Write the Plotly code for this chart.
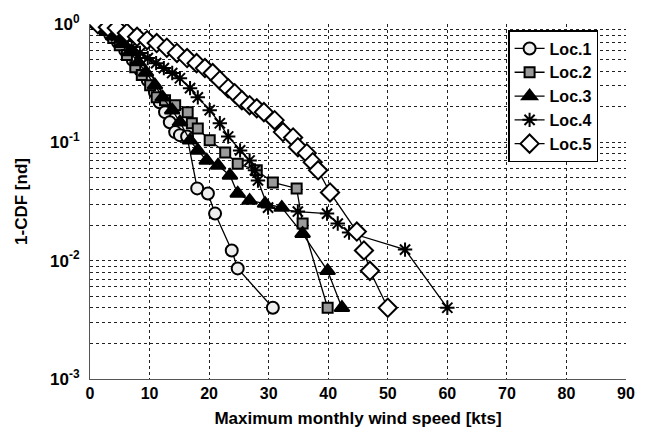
import plotly.graph_objects as go

# Exceedance probability (1-CDF) of maximum monthly wind speed at five locations
loc1_speed = [1.2, 2.2, 3.4, 4.7, 5.9, 7.2, 8.4, 9.7, 10.9, 11.7, 12.6, 13.4, 14.3, 15.1, 16.3,
              18.0, 19.8, 21.0, 23.8, 24.8, 30.7]
loc1_prob = [1.0, 0.925, 0.81, 0.70, 0.60, 0.495, 0.41, 0.335, 0.265, 0.218, 0.18, 0.148, 0.122,
             0.115, 0.112, 0.0408, 0.037, 0.025, 0.0122, 0.0086, 0.004]

loc2_speed = [1.2, 2.5, 3.9, 5.0, 6.2, 7.6, 8.7, 10.1, 11.2, 12.6, 14.3, 16.4, 17.1, 18.1, 20.1,
              22.7, 24.8, 28.0, 30.7, 34.7, 35.7, 39.9]
loc2_prob = [1.0, 0.89, 0.76, 0.66, 0.546, 0.432, 0.37, 0.304, 0.24, 0.227, 0.206, 0.18, 0.145,
             0.131, 0.104, 0.082, 0.066, 0.058, 0.0458, 0.0408, 0.0206, 0.004]

loc3_speed = [1.2, 2.5, 3.9, 5.4, 6.7, 8.1, 9.4, 10.9, 12.2, 13.8, 15.1, 16.8, 18.1, 19.6, 21.5,
              23.5, 24.8, 26.8, 29.4, 32.2, 35.7, 39.9, 42.3]
loc3_prob = [1.0, 0.89, 0.79, 0.68, 0.58, 0.477, 0.39, 0.304, 0.24, 0.187, 0.148, 0.104, 0.0855,
             0.0703, 0.0638, 0.0525, 0.037, 0.0322, 0.0304, 0.0281, 0.0169, 0.0082, 0.004]

loc4_speed = [1.7, 3.0, 4.4, 5.7, 7.0, 8.4, 9.7, 11.1, 12.4, 13.8, 15.1, 16.8, 18.1, 20.1, 21.8,
              23.2, 25.2, 26.8, 27.7, 28.2, 29.9, 34.9, 39.8, 41.6, 43.5, 52.9, 60.0]
loc4_prob = [0.98, 0.89, 0.79, 0.72, 0.64, 0.57, 0.515, 0.467, 0.424, 0.385, 0.348, 0.287, 0.24,
             0.187, 0.145, 0.112, 0.0855, 0.0703, 0.058, 0.0476, 0.0281, 0.026, 0.025, 0.0206,
             0.0173, 0.0124, 0.004]

loc5_speed = [1.3, 3.0, 4.5, 6.2, 7.9, 9.6, 11.2, 12.9, 14.6, 16.3, 17.9, 19.3, 20.6, 21.8, 23.2,
              24.3, 25.5, 26.8, 28.0, 29.2, 31.0, 32.4, 34.1, 34.9, 36.4, 37.4, 38.3, 40.3, 44.8,
              46.0, 47.0, 50.0]
loc5_prob = [1.0, 0.94, 0.925, 0.84, 0.78, 0.73, 0.69, 0.63, 0.57, 0.515, 0.467, 0.424, 0.385,
             0.335, 0.287, 0.26, 0.227, 0.206, 0.194, 0.18, 0.154, 0.122, 0.110, 0.091, 0.081,
             0.068, 0.058, 0.0377, 0.0176, 0.0122, 0.0082, 0.004]

x_ticks = [0, 10, 20, 30, 40, 50, 60, 70, 80, 90]
y_ticks = [0.001, 0.01, 0.1, 1]
y_tick_text = ["10<sup>-3</sup>", "10<sup>-2</sup>", "10<sup>-1</sup>", "10<sup>0</sup>"]
y_minor = [m * 10 ** e for e in (-3, -2, -1) for m in range(2, 10)]

FONT = "Liberation Sans, Arial, sans-serif"

series = [
    ("Loc.1", loc1_speed, loc1_prob, dict(symbol="circle", size=12, color="#eeeeee")),
    ("Loc.2", loc2_speed, loc2_prob, dict(symbol="square", size=10, color="#9a9a9a")),
    ("Loc.3", loc3_speed, loc3_prob, dict(symbol="triangle-up", size=13, color="black")),
    ("Loc.4", loc4_speed, loc4_prob, dict(symbol="asterisk-open", size=12, color="black")),
    ("Loc.5", loc5_speed, loc5_prob, dict(symbol="diamond", size=14, color="white")),
]

fig = go.Figure()
for name, xs, ys, mk in series:
    fig.add_trace(go.Scatter(
        x=xs, y=ys, name=name, mode="lines+markers",
        line=dict(color="black", width=1.3),
        marker=dict(symbol=mk["symbol"], size=mk["size"], color=mk["color"],
                    line=dict(color="black", width=2)),
    ))

grid = dict(showgrid=True, gridcolor="#222222", gridwidth=1, griddash="3px,3px")

fig.update_layout(
    width=650, height=440,
    margin=dict(l=90, r=24, t=24, b=61),
    paper_bgcolor="white", plot_bgcolor="white",
    font=dict(family=FONT, color="black"),
    showlegend=True,
    legend=dict(
        x=0.78, y=0.983, xanchor="left", yanchor="top",
        bgcolor="white", bordercolor="black", borderwidth=1.5,
        font=dict(family=FONT, size=16, weight="bold"),
        itemwidth=30, tracegroupgap=0,
    ),
    xaxis=dict(
        range=[0, 90], tickvals=x_ticks, **grid,
        showline=True, linecolor="#555555", linewidth=1, mirror=False,
        zeroline=False, ticks="",
        tickfont=dict(family=FONT, size=16, weight="bold"),
        title=dict(text="Maximum monthly wind speed [kts]", standoff=10,
                   font=dict(family=FONT, size=17, weight="bold")),
    ),
    yaxis=dict(
        type="log", range=[-3, 0], tickvals=y_ticks, ticktext=y_tick_text, **grid,
        minor=dict(tickvals=y_minor, showgrid=True, gridcolor="#222222",
                   gridwidth=1, griddash="3px,3px"),
        showline=True, linecolor="#555555", linewidth=1, mirror=False,
        zeroline=False, ticks="", ticklabelstandoff=6,
        tickfont=dict(family=FONT, size=17, weight="bold"),
        title=dict(text="1-CDF [nd]", standoff=18,
                   font=dict(family=FONT, size=17, weight="bold")),
    ),
)

fig.write_html("out.html")
